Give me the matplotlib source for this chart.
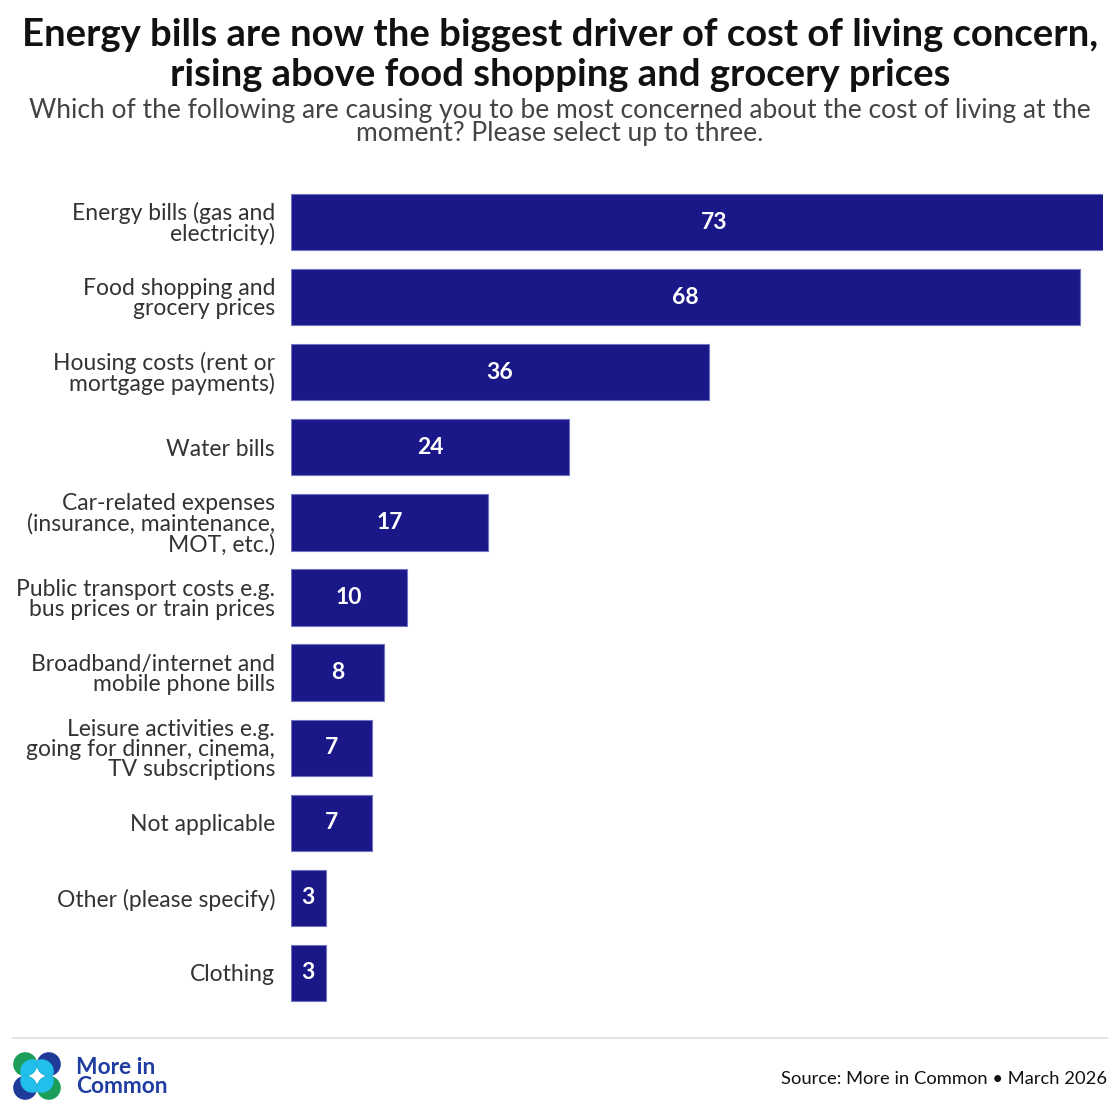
import matplotlib.pyplot as plt
from matplotlib.patches import Circle

categories = [
    'Energy bills (gas and\nelectricity)',
    'Food shopping and\ngrocery prices',
    'Housing costs (rent or\nmortgage payments)',
    'Water bills',
    'Car-related expenses\n(insurance, maintenance,\nMOT, etc.)',
    'Public transport costs e.g.\nbus prices or train prices',
    'Broadband/internet and\nmobile phone bills',
    'Leisure activities e.g.\ngoing for dinner, cinema,\nTV subscriptions',
    'Not applicable',
    'Other (please specify)',
    'Clothing',
]
values = [73, 68, 36, 24, 17, 10, 8, 7, 7, 3, 3]

title = ('Energy bills are now the biggest driver of cost of living concern,\n'
         'rising above food shopping and grocery prices')
subtitle = ('Which of the following are causing you to be most concerned about the cost of living at the\n'
            'moment? Please select up to three.')
source = 'Source: More in Common \u2022 March 2026'

bar_color = '#1a1888'
font = 'Lato'

W, H = 1120, 1120
fig = plt.figure(figsize=(W / 100, H / 100), dpi=100)

# main bar axes
ax = fig.add_axes([291 / W, 1 - 1010.5 / H, (1103 - 291) / W, (1010.5 - 184.5) / H])
ypos = list(range(len(categories)))
ax.barh(ypos, values, height=0.75, color=bar_color, edgecolor='#6f73c4', linewidth=0.8)
ax.set_xlim(0, 70)
ax.set_ylim(len(categories) - 0.5, -0.5)
for y, v in zip(ypos, values):
    ax.text(v / 2, y, str(v), ha='center', va='center', color='white',
            fontsize=16.5, fontweight='bold', family=font)
ax.set_yticks(ypos)
ax.set_yticklabels(categories, fontsize=16.5, color='#333333', family=font, linespacing=0.95)
ax.tick_params(axis='y', length=0, pad=11.5)
ax.set_xticks([])
for s in ax.spines.values():
    s.set_visible(False)

# title and subtitle
fig.text(0.5, 1 - 18 / H, title, ha='center', va='top', fontsize=27.5, fontweight='bold',
         color='#111111', family=font, linespacing=1.2)
fig.text(0.5, 1 - 98 / H, subtitle, ha='center', va='top', fontsize=19,
         color='#444444', family=font, linespacing=0.88)

# footer: separator, logo, source
deco = fig.add_axes([0, 0, 1, 1], zorder=-1)
deco.set_xlim(0, W)
deco.set_ylim(H, 0)
deco.axis('off')
deco.plot([13, 1107], [1038, 1038], color='#dddddd', lw=1.2)

navy, green, light = '#1f3b99', '#1a9e5a', '#22bfea'
cx, cy, r = 37, 1076, 12
logo = [(-11.8, -11.8, green), (11.8, -11.8, navy), (-11.8, 11.8, navy), (11.8, 11.8, green)]
for dx, dy, col in logo:
    outer = Circle((cx + dx, cy + dy), r, color=col, lw=0)
    deco.add_patch(outer)
    inner = Circle((cx + dx * 0.4, cy + dy * 0.4), r, color=light, lw=0)
    deco.add_patch(inner)
    inner.set_clip_path(outer)

fig.text(76 / W, 1 - 1077 / H, 'More in\nCommon', ha='left', va='center', fontsize=16.4,
         fontweight='bold', color='#1f3da0', family=font, linespacing=0.9)
fig.text(1107 / W, 1 - 1079 / H, source, ha='right', va='center', fontsize=13.2,
         color='#111111', family=font)

fig.savefig('out.png', dpi=100)
